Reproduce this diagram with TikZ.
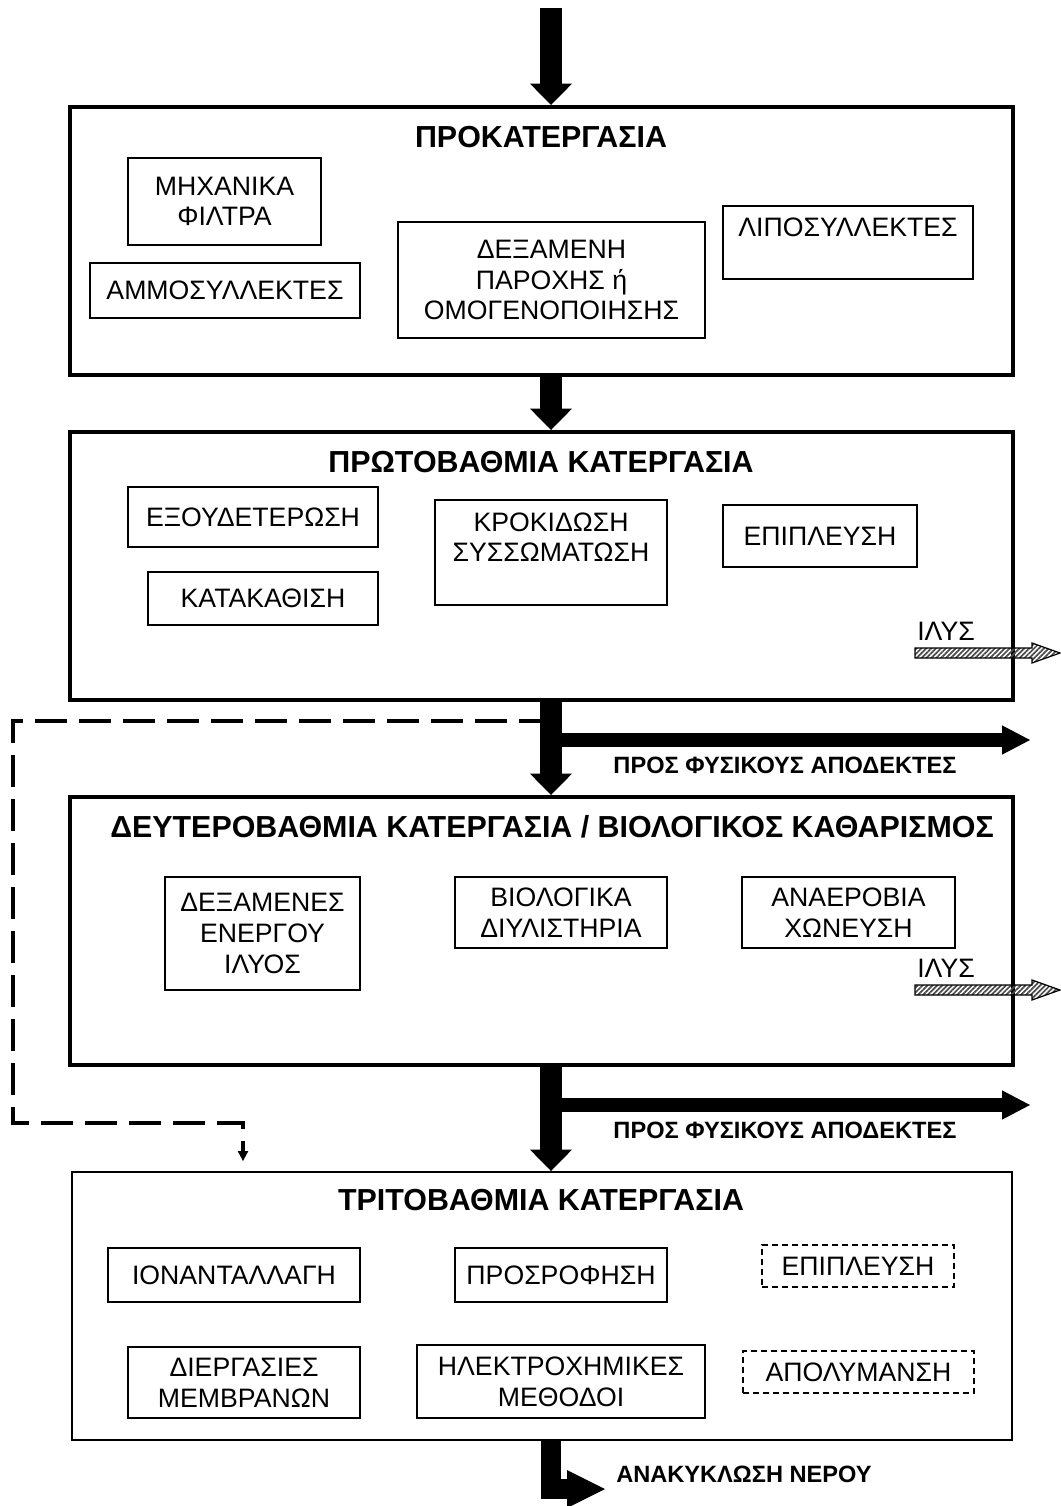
\documentclass[tikz,border=0pt]{standalone}
\usepackage{fontspec}
\setmainfont{Liberation Sans}
\usetikzlibrary{arrows.meta,patterns.meta}

\begin{document}
\begin{tikzpicture}[x=0.75pt,y=-0.75pt,
  dims/.style 2 args={minimum width=#1*0.75pt,minimum height=#2*0.75pt},
  stage/.style={draw,line width=3pt,inner sep=0pt},
  laststage/.style={draw,line width=1.5pt,inner sep=0pt},
  unit/.style={draw,line width=1.3pt,inner sep=0pt,align=center,font=\fontsize{20}{23}\selectfont},
  optunit/.style={unit,line width=1.1pt,dash pattern=on 4.5pt off 3pt},
  heading/.style={inner sep=0pt,font=\fontsize{22.8}{26}\selectfont\bfseries},
  note/.style={inner sep=0pt,font=\fontsize{17.7}{21}\selectfont\bfseries},
  plain/.style={inner sep=0pt,font=\fontsize{20}{23}\selectfont},
  bigarrow/.style={line width=16.5pt,-{Triangle[width=31.5pt,length=16pt,line width=0pt]}},
  sidearrow/.style={line width=10.5pt,-{Triangle[width=22pt,length=21pt,line width=0pt]}},
  bentarrow/.style={line width=15pt,-{Triangle[width=28.5pt,length=28.5pt,line width=0pt]}},
  recycle/.style={line width=2.6pt,dash pattern=on 24pt off 9pt,-{Triangle[width=8pt,length=7.5pt,line width=0pt]}},
  sludge/.style={draw,line width=0.9pt,pattern={Lines[angle=45,distance=2.6pt,line width=1.3pt]},pattern color=gray!60!black}]
  \useasboundingbox (0,0) rectangle (1060,1506);

  % stages
  \node[stage,dims={943}{268}] (pretreat) at (541.5,241) {};
  \node[heading] (pretreat-t) at (541,137) {ΠΡΟΚΑΤΕΡΓΑΣΙΑ};
  \node[unit,dims={193}{87}] (filters) at (224.5,201.5) {ΜΗΧΑΝΙΚΑ\\ΦΙΛΤΡΑ};
  \node[unit,dims={270}{55}] (sand) at (225,290.5) {ΑΜΜΟΣΥΛΛΕΚΤΕΣ};
  \node[unit,dims={307}{116}] (tank) at (551.5,280) {ΔΕΞΑΜΕΝΗ\\ΠΑΡΟΧΗΣ ή\\ΟΜΟΓΕΝΟΠΟΙΗΣΗΣ};
  \node[unit,dims={250}{73}] (grease) at (848,242.5) {ΛΙΠΟΣΥΛΛΕΚΤΕΣ\\ \mbox{}};

  \node[stage,dims={943}{268}] (primary) at (541.5,566) {};
  \node[heading] (primary-t) at (541,462) {ΠΡΩΤΟΒΑΘΜΙΑ ΚΑΤΕΡΓΑΣΙΑ};
  \node[unit,dims={250}{60}] (neutral) at (253,517) {ΕΞΟΥΔΕΤΕΡΩΣΗ};
  \node[unit,dims={230}{53}] (settle) at (263,598.5) {ΚΑΤΑΚΑΘΙΣΗ};
  \node[unit,dims={232}{105}] (floc) at (551,552.5) {ΚΡΟΚΙΔΩΣΗ\\ΣΥΣΣΩΜΑΤΩΣΗ\\ \mbox{}};
  \node[unit,dims={194}{62}] (flot) at (820,536) {ΕΠΙΠΛΕΥΣΗ};

  \node[stage,dims={943}{268}] (secondary) at (541.5,931) {};
  \node[heading] (secondary-t) at (552,827) {ΔΕΥΤΕΡΟΒΑΘΜΙΑ ΚΑΤΕΡΓΑΣΙΑ / ΒΙΟΛΟΓΙΚΟΣ ΚΑΘΑΡΙΣΜΟΣ};
  \node[unit,dims={195}{113}] (sludgetank) at (262.5,933.5) {ΔΕΞΑΜΕΝΕΣ\\ΕΝΕΡΓΟΥ\\ΙΛΥΟΣ};
  \node[unit,dims={212}{71}] (biofilter) at (561,912.5) {ΒΙΟΛΟΓΙΚΑ\\ΔΙΥΛΙΣΤΗΡΙΑ};
  \node[unit,dims={213}{71}] (anaerobic) at (848.5,912.5) {ΑΝΑΕΡΟΒΙΑ\\ΧΩΝΕΥΣΗ};

  \node[laststage,dims={940}{268}] (tertiary) at (542,1306) {};
  \node[heading] (tertiary-t) at (541,1200) {ΤΡΙΤΟΒΑΘΜΙΑ ΚΑΤΕΡΓΑΣΙΑ};
  \node[unit,dims={252}{54}] (ionex) at (234,1275) {ΙΟΝΑΝΤΑΛΛΑΓΗ};
  \node[unit,dims={212}{54}] (adsorb) at (561,1275) {ΠΡΟΣΡΟΦΗΣΗ};
  \node[optunit,dims={192}{42}] (flot2) at (858,1266) {ΕΠΙΠΛΕΥΣΗ};
  \node[unit,dims={232}{71}] (membrane) at (244,1382.5) {ΔΙΕΡΓΑΣΙΕΣ\\ΜΕΜΒΡΑΝΩΝ};
  \node[unit,dims={288}{73}] (electro) at (561,1381.5) {ΗΛΕΚΤΡΟΧΗΜΙΚΕΣ\\ΜΕΘΟΔΟΙ};
  \node[optunit,dims={231}{42}] (disinf) at (858.5,1372) {ΑΠΟΛΥΜΑΝΣΗ};

  % main flow
  \coordinate (in) at (551,8);
  \coordinate (out1) at (1030,740);
  \coordinate (out2) at (1030,1105);
  \coordinate (reuse) at (605,1489);
  \draw[bigarrow] (in) -- (pretreat.north -| in);
  \draw[bigarrow] (pretreat.south -| in) -- (primary.north -| in);
  \draw[bigarrow] (primary.south -| in) -- (secondary.north -| in);
  \draw[bigarrow] (secondary.south -| in) -- (tertiary.north -| in);
  \draw[sidearrow] (in |- out1) -- (out1);
  \draw[sidearrow] (in |- out2) -- (out2);
  \draw[bentarrow] (tertiary.south -| in) |- (reuse);
  \node[note] (dest1) at (785,765) {ΠΡΟΣ ΦΥΣΙΚΟΥΣ ΑΠΟΔΕΚΤΕΣ};
  \node[note] (dest2) at (785,1130) {ΠΡΟΣ ΦΥΣΙΚΟΥΣ ΑΠΟΔΕΚΤΕΣ};
  \node[note,anchor=west] (reuse-l) at (616,1474) {ΑΝΑΚΥΚΛΩΣΗ ΝΕΡΟΥ};

  % bypass to tertiary
  \coordinate (turn1) at (13,721);
  \coordinate (turn2) at (243,1123);
  \draw[recycle,shorten >=7.5pt] (in |- turn1) -- (turn1) |- (turn2) -- (turn2 |- tertiary.north);

  % sludge
  \coordinate (sludge1) at (915,653);
  \coordinate (sludge2) at (915,990);
  \foreach \s in {sludge1,sludge2}
    \draw[sludge] (\s) ++(0,-5) -- ++(117,0) -- ++(0,-5) -- ++(28,10) -- ++(-28,10) -- ++(0,-5) -- ++(-117,0) -- cycle;
  \node[plain] (sludge1-l) at (946,631) {ΙΛΥΣ};
  \node[plain] (sludge2-l) at (946,968) {ΙΛΥΣ};
\end{tikzpicture}
\end{document}
